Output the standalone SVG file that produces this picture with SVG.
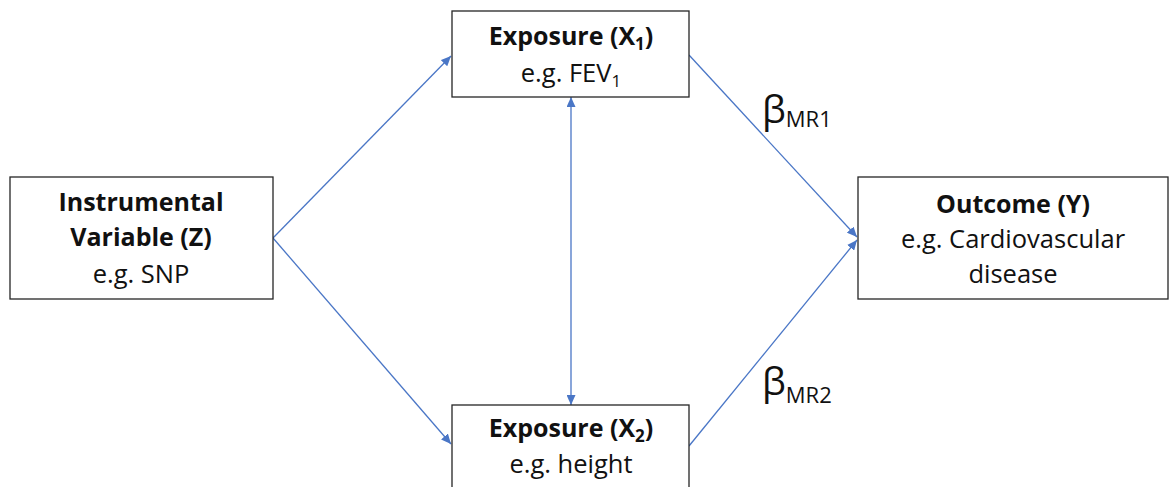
<svg xmlns="http://www.w3.org/2000/svg" width="1171" height="487" viewBox="0 0 1171 487">
  <style>
    .box { fill: #ffffff; stroke: #262626; stroke-width: 1.3; }
    .t { font-family: "Open Sans", "Liberation Sans", sans-serif; font-size: 25.5px; fill: #111111; text-anchor: middle; }
    .b { font-weight: bold; font-size: 25px; }
    .sub { font-size: 17px; }
    .edge { stroke: #4a76c6; stroke-width: 1.3; fill: none; marker-end: url(#ah); }
    .both { marker-start: url(#ah); }
    .beta { font-family: "Open Sans", "Liberation Sans", sans-serif; font-size: 38px; fill: #111111; }
    .betasub { font-size: 22px; }
  </style>
  <defs>
    <marker id="ah" markerUnits="userSpaceOnUse" markerWidth="11" markerHeight="9" refX="10" refY="4.5" orient="auto-start-reverse">
      <path d="M0,0 L10,4.5 L0,9 z" fill="#4a76c6"/>
    </marker>
  </defs>

  <rect width="1171" height="487" fill="#ffffff"/>

  <g id="connectors">
    <line class="edge" x1="273" y1="238" x2="451" y2="56"/>
    <line class="edge" x1="273" y1="238" x2="451" y2="444"/>
    <line class="edge" x1="689" y1="55" x2="857" y2="237"/>
    <line class="edge" x1="689" y1="446" x2="857" y2="240"/>
    <line class="edge both" x1="571" y1="97" x2="571" y2="405"/>
  </g>

  <g id="instrument">
    <rect class="box" x="10" y="177" width="263" height="122"/>
    <text class="t b" x="141" y="211">Instrumental</text>
    <text class="t b" x="141" y="246">Variable (Z)</text>
    <text class="t" x="141" y="283">e.g. SNP</text>
  </g>

  <g id="exposure1">
    <rect class="box" x="452" y="11" width="237" height="86"/>
    <text class="t b" x="571" y="45">Exposure (X<tspan class="sub" dy="5">1</tspan><tspan dy="-5">)</tspan></text>
    <text class="t" x="571" y="82">e.g. FEV<tspan class="sub" dy="5">1</tspan></text>
  </g>

  <g id="exposure2">
    <rect class="box" x="452" y="405" width="237" height="100"/>
    <text class="t b" x="571" y="437">Exposure (X<tspan class="sub" dy="5">2</tspan><tspan dy="-5">)</tspan></text>
    <text class="t" x="571" y="473">e.g. height</text>
  </g>

  <g id="outcome">
    <rect class="box" x="858" y="177" width="310" height="122"/>
    <text class="t b" x="1013" y="213">Outcome (Y)</text>
    <text class="t" x="1013" y="248">e.g. Cardiovascular</text>
    <text class="t" x="1013" y="283">disease</text>
  </g>

  <g id="labels">
    <text class="beta" x="762" y="123">β<tspan class="betasub" dy="4">MR1</tspan></text>
    <text class="beta" x="762" y="395">β<tspan class="betasub" dy="8">MR2</tspan></text>
  </g>
</svg>
